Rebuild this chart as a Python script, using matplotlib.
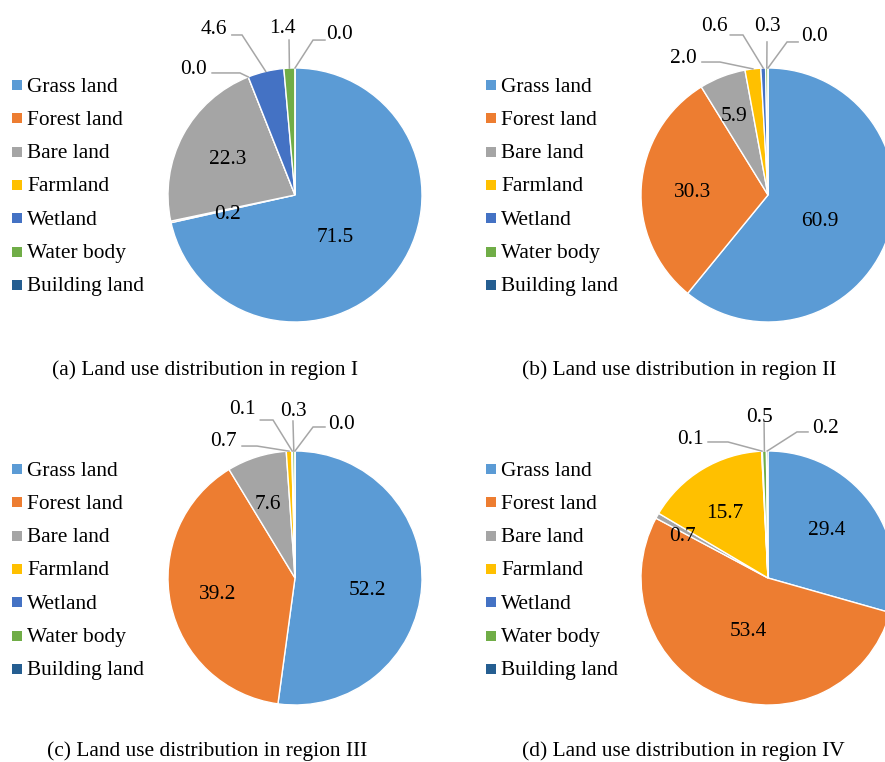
import matplotlib.pyplot as plt
import numpy as np

plt.rcParams['font.family'] = ['Liberation Serif', 'DejaVu Serif']

# data
categories = ["Grass land", "Forest land", "Bare land", "Farmland",
              "Wetland", "Water body", "Building land"]
colors = ["#5B9BD5", "#ED7D31", "#A5A5A5", "#FFC000",
          "#4472C4", "#70AD47", "#255E91"]
region_1 = [71.5, 0.2, 22.3, 0.0, 4.6, 1.4, 0.0]
region_2 = [60.9, 30.3, 5.9, 2.0, 0.6, 0.3, 0.0]
region_3 = [52.2, 39.2, 7.6, 0.7, 0.1, 0.3, 0.0]
region_4 = [29.4, 53.4, 0.7, 15.7, 0.1, 0.5, 0.2]
captions = ["(a) Land use distribution in region I",
            "(b) Land use distribution in region II",
            "(c) Land use distribution in region III",
            "(d) Land use distribution in region IV"]

# layout (pixels, top-down) and label placement in pie-radius units
W, H = 885, 762
R = 127
FS = 15.4
LINE = "#A6A6A6"
TY = -2  # small nudge so glyphs sit where they do in the reference

panels = [
    dict(values=region_1, center=(295, 195), legend=(17, 85), caption=(205, 370),
         inside={0: (0.315, -0.315), 1: (-0.528, -0.134), 2: (-0.528, 0.299)},
         outside={3: (-0.803, 1.0, -0.433, 0.961, -0.22),
                  4: (-0.638, 1.315, -0.417, 1.26, -0.08),
                  5: (-0.102, 1.323, -0.047, 1.22, 0.0),
                  6: (0.354, 1.276, 0.142, 1.22, 0.094)}),
    dict(values=region_2, center=(768, 195), legend=(491, 85), caption=(679, 370),
         inside={0: (0.409, -0.189), 1: (-0.591, 0.039), 2: (-0.268, 0.63)},
         outside={3: (-0.669, 1.087, -0.378, 1.047, -0.142),
                  4: (-0.425, 1.339, -0.197, 1.26, -0.10),
                  5: (-0.008, 1.339, -0.008, 1.205, 0.0),
                  6: (0.37, 1.26, 0.15, 1.205, 0.087)}),
    dict(values=region_3, center=(295, 578), legend=(17, 469), caption=(207, 751),
         inside={0: (0.567, -0.079), 1: (-0.606, -0.118), 2: (-0.213, 0.598)},
         outside={3: (-0.567, 1.087, -0.299, 1.039, -0.118),
                  4: (-0.417, 1.339, -0.173, 1.244, -0.10),
                  5: (-0.016, 1.323, -0.016, 1.236, 0.0),
                  6: (0.37, 1.228, 0.142, 1.189, 0.094)}),
    dict(values=region_4, center=(768, 578), legend=(491, 469), caption=(683, 751),
         inside={0: (0.465, 0.386), 1: (-0.157, -0.409), 2: (-0.677, 0.339), 3: (-0.339, 0.52)},
         outside={4: (-0.614, 1.110, -0.315, 1.071, -0.157),
                  5: (-0.063, 1.283, -0.031, 1.22, 0.0),
                  6: (0.449, 1.189, 0.228, 1.150, 0.087)}),
]

fig = plt.figure(figsize=(W / 100, H / 100), dpi=100)
ax = fig.add_axes([0, 0, 1, 1])

for n, p in enumerate(panels):
    cx, cy = p["center"][0], H - p["center"][1]
    wedges, _ = ax.pie(p["values"], colors=colors, startangle=90, counterclock=False,
                       center=(cx, cy), radius=R,
                       wedgeprops=dict(edgecolor="white", linewidth=1.0))

    # data labels inside the slices
    for i, (dx, dy) in p["inside"].items():
        ax.text(cx + dx * R, cy + dy * R + TY, f"{p['values'][i]:.1f}",
                ha="center", va="center", fontsize=FS)

    # small slices: label outside with an elbow leader line
    for i, (lx, ly, ex, ey, tail) in p["outside"].items():
        w = wedges[i]
        mid = np.deg2rad((w.theta1 + w.theta2) / 2)
        px, py = cx + R * np.cos(mid), cy + R * np.sin(mid)
        xs = [px, cx + ex * R, cx + (ex + tail) * R]
        ys = [py, cy + ey * R, cy + ey * R]
        ax.plot(xs, ys, color=LINE, lw=1.1, solid_joinstyle="miter")
        ax.text(cx + lx * R, cy + ly * R + TY, f"{p['values'][i]:.1f}",
                ha="center", va="center", fontsize=FS)

    # legend
    lx0, ly0 = p["legend"]
    for k, (name, col) in enumerate(zip(categories, colors)):
        yy = H - (ly0 + k * 33.3)
        ax.scatter([lx0], [yy], marker="s", s=62, color=col, linewidths=0)
        ax.text(lx0 + 10, yy + TY, name, ha="left", va="center", fontsize=FS)

    # caption; bottom ones are kept just inside the frame
    ax.text(p["caption"][0], H - p["caption"][1], captions[n],
            ha="center", va="center", fontsize=FS)

ax.set_xlim(0, W)
ax.set_ylim(0, H)
ax.set_aspect("equal")
ax.axis("off")

fig.savefig("out.png", dpi=100)
